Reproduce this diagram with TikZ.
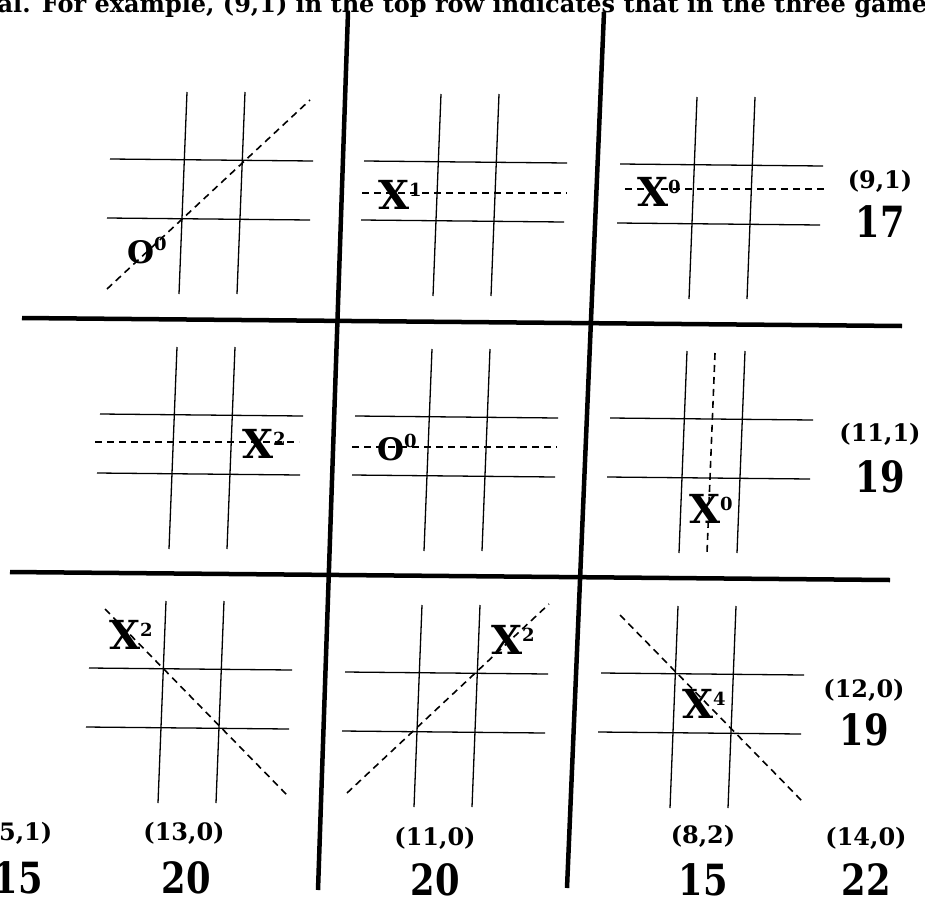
\documentclass[tikz,border=0pt]{standalone}
\usepackage{fontspec}
\setmainfont{DejaVu Serif}
\newfontfamily\slabnarrow[FakeStretch=0.82]{DejaVu Serif}
\newcommand\supnum[1]{\raisebox{13pt}{\fontsize{18}{18}\selectfont#1}}

\begin{document}
\begin{tikzpicture}[x=1pt,y=-1pt,
  board/.style={line width=4.5pt},
  tttline/.style={line width=1.3pt},
  win/.style={line width=1.6pt,dash pattern=on 7pt off 5pt},
  xmark/.style={anchor=base west,inner sep=0pt,font=\fontsize{40}{40}\selectfont\bfseries},
  omark/.style={anchor=base west,inner sep=0pt,font=\fontsize{31}{31}\selectfont\bfseries},
  pair/.style={anchor=base,inner sep=0pt,font=\fontsize{24}{24}\selectfont\bfseries},
  score/.style={anchor=base,inner sep=0pt,font=\fontsize{43}{43}\slabnarrow\bfseries}]
\useasboundingbox (0,0) rectangle (925,899);
\clip (0,0) rectangle (925,899);
% cut-off caption line at the top
\node[anchor=base west,inner sep=0pt,font=\fontsize{24}{24}\selectfont\bfseries] (cap) at (-20,13) {ual. For example, (9,1) in the top row indicates that in the three games};
% the big board
\draw[board] (348,12) -- (318,890);
\draw[board] (604,12) -- (567,888);
\draw[board] (22,318) -- (902,326);
\draw[board] (10,572) -- (890,580);
% small boards
\foreach \gx/\gy in {187/92,441/94,697/97,177/347,432/349,687/351,166/601,422/605,678/606}{
  \draw[tttline] (\gx,\gy) -- ++(-8,202);
  \draw[tttline] (\gx+58,\gy) -- ++(-8,202);
  \draw[tttline] (\gx-77,\gy+67) -- ++(203,2);
  \draw[tttline] (\gx-80,\gy+126) -- ++(203,2);
}
% winning lines
\draw[win] (107,289) -- (310,100);
\draw[win] (362,193) -- (567,193);
\draw[win] (625,189) -- (828,189);
\draw[win] (95,442) -- (299,442);
\draw[win] (352,447) -- (557,447);
\draw[win] (715,353) -- (707,553);
\draw[win] (105,609) -- (288,796);
\draw[win] (347,793) -- (549,604);
\draw[win] (620,615) -- (803,802);
% marks
\node[omark] (m11) at (127,263) {O\supnum{0}};
\node[xmark] (m12) at (378,209) {X\supnum{1}};
\node[xmark] (m13) at (637,206) {X\supnum{0}};
\node[xmark] (m21) at (242,458) {X\supnum{2}};
\node[omark] (m22) at (377,460) {O\supnum{0}};
\node[xmark] (m23) at (689,523) {X\supnum{0}};
\node[xmark] (m31) at (109,649) {X\supnum{2}};
\node[xmark] (m32) at (491,654) {X\supnum{2}};
\node[xmark] (m33) at (682,718) {X\supnum{4}};
% row and column totals
\node[pair] (p1) at (880,188) {(9,1)};
\node[score] (s1) at (880,237) {17};
\node[pair] (p2) at (880,441) {(11,1)};
\node[score] (s2) at (880,492) {19};
\node[pair] (p3) at (864,697) {(12,0)};
\node[score] (s3) at (864,745) {19};
\node[pair] (pd) at (20,840) {(5,1)};
\node[score] (sd) at (18,893) {15};
\node[pair] (pc1) at (184,840) {(13,0)};
\node[score] (sc1) at (186,893) {20};
\node[pair] (pc2) at (435,845) {(11,0)};
\node[score] (sc2) at (435,895) {20};
\node[pair] (pc3) at (703,843) {(8,2)};
\node[score] (sc3) at (703,895) {15};
\node[pair] (pa) at (866,845) {(14,0)};
\node[score] (sa) at (866,895) {22};
\end{tikzpicture}
\end{document}
